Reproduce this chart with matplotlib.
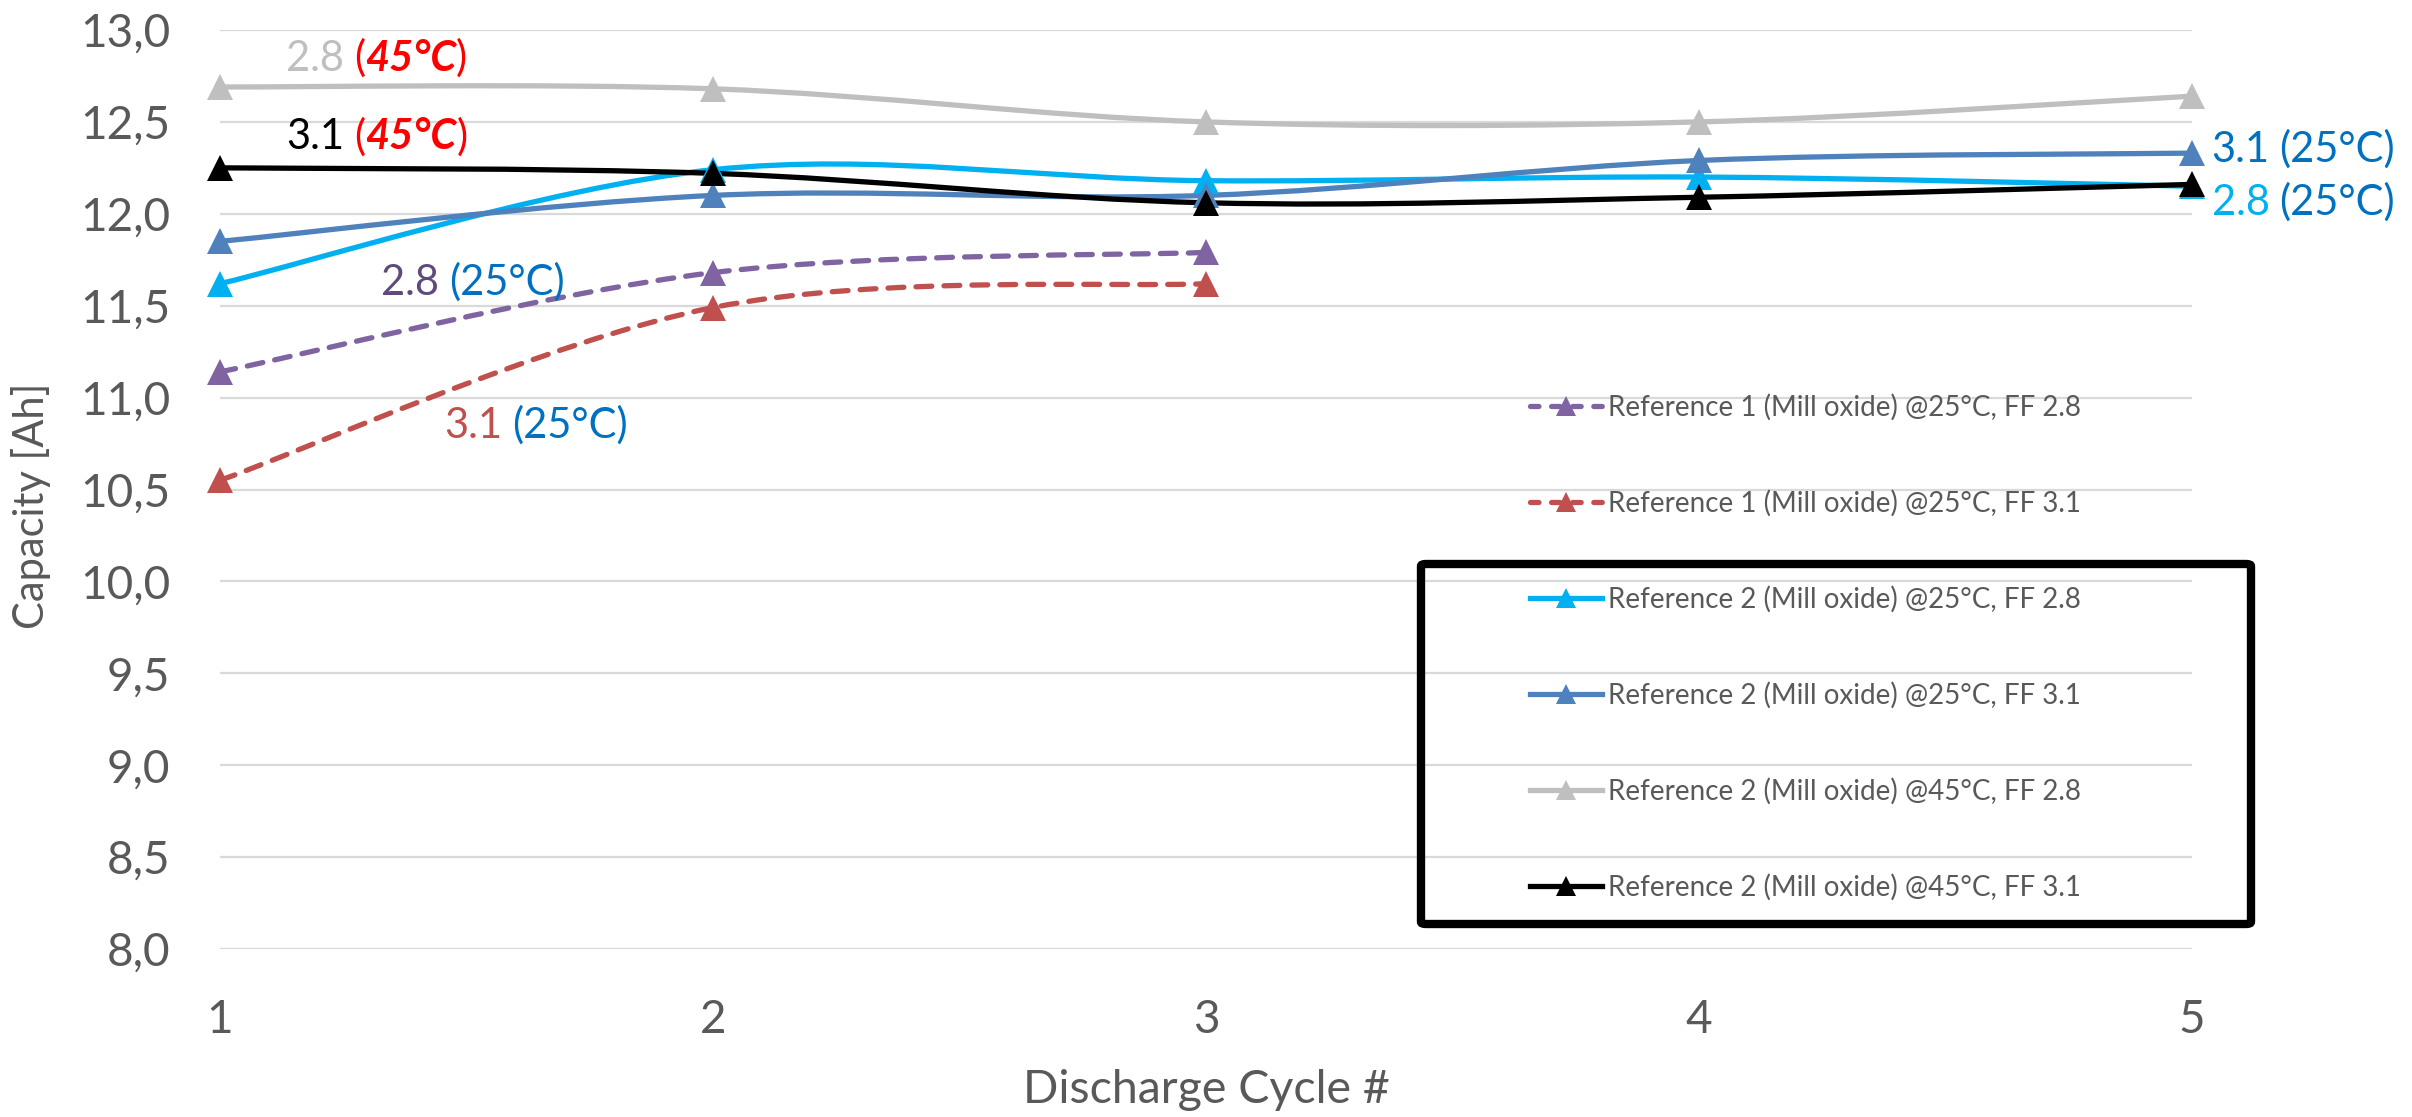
import matplotlib
matplotlib.use("Agg")
import matplotlib.pyplot as plt
from matplotlib.path import Path
from matplotlib.patches import PathPatch, FancyBboxPatch
from matplotlib.lines import Line2D
from matplotlib.offsetbox import TextArea, HPacker, AnnotationBbox
from matplotlib.ticker import FuncFormatter

plt.rcParams['font.family'] = ['Lato', 'DejaVu Sans']

# ---------------- data ----------------
cycles = [1, 2, 3, 4, 5]
ref1_25_ff28 = [11.14, 11.68, 11.79]
ref1_25_ff31 = [10.55, 11.49, 11.62]
ref2_25_ff28 = [11.62, 12.24, 12.18, 12.20, 12.15]
ref2_25_ff31 = [11.85, 12.10, 12.10, 12.29, 12.33]
ref2_45_ff28 = [12.69, 12.68, 12.50, 12.50, 12.64]
ref2_45_ff31 = [12.25, 12.22, 12.06, 12.09, 12.16]

labels = [
    "Reference 1 (Mill oxide) @25°C, FF 2.8",
    "Reference 1 (Mill oxide) @25°C, FF 3.1",
    "Reference 2 (Mill oxide) @25°C, FF 2.8",
    "Reference 2 (Mill oxide) @25°C, FF 3.1",
    "Reference 2 (Mill oxide) @45°C, FF 2.8",
    "Reference 2 (Mill oxide) @45°C, FF 3.1",
]
series = [ref1_25_ff28, ref1_25_ff31, ref2_25_ff28, ref2_25_ff31, ref2_45_ff28, ref2_45_ff31]
colors = ["#8064A2", "#C0504D", "#00B0F0", "#4F81BD", "#BFBFBF", "#000000"]
dashed = [True, True, False, False, False, False]

yticks = [8.0, 8.5, 9.0, 9.5, 10.0, 10.5, 11.0, 11.5, 12.0, 12.5, 13.0]

TXT = "#595959"
LW = 3.8
MS = 19

fig = plt.figure(figsize=(24.12, 11.17), dpi=100)
W, H = 2412, 1117
ax = fig.add_axes([220 / W, 1 - 949 / H, (2192 - 220) / W, (949 - 30) / H])
ax.set_xlim(1, 5)
ax.set_ylim(8, 13)
ax.set_yticks(yticks)
ax.set_xticks(cycles)
ax.yaxis.set_major_formatter(FuncFormatter(lambda v, p: f"{v:.1f}".replace(".", ",")))
for s in ax.spines.values():
    s.set_visible(False)
ax.grid(axis='y', color="#D9D9D9", lw=1.6)
ax.set_axisbelow(True)
ax.tick_params(axis='both', length=0, labelsize=33, labelcolor=TXT)
ax.tick_params(axis='y', pad=36)
ax.tick_params(axis='x', pad=36)


def smooth_path(xs, ys):
    n = len(xs)
    pts = list(zip(xs, ys))
    verts = [pts[0]]
    codes = [Path.MOVETO]
    for i in range(n - 1):
        p0 = pts[i - 1] if i > 0 else pts[i]
        p1 = pts[i]
        p2 = pts[i + 1]
        p3 = pts[i + 2] if i + 2 < n else pts[i + 1]
        c1 = (p1[0] + (p2[0] - p0[0]) / 6, p1[1] + (p2[1] - p0[1]) / 6)
        c2 = (p2[0] - (p3[0] - p1[0]) / 6, p2[1] - (p3[1] - p1[1]) / 6)
        verts += [c1, c2, p2]
        codes += [Path.CURVE4] * 3
    return Path(verts, codes)


handles = []
for ys, col, dsh, lab in zip(series, colors, dashed, labels):
    xs = cycles[:len(ys)]
    ls = (0, (3.0, 2.3)) if dsh else '-'
    patch = PathPatch(smooth_path(xs, ys), fill=False, edgecolor=col, lw=LW,
                      linestyle=ls, capstyle='round', clip_on=False, zorder=3)
    ax.add_patch(patch)
    ax.plot(xs, ys, linestyle='none', marker='^', ms=MS, color=col,
            markeredgewidth=0, clip_on=False, zorder=4)
    h = Line2D([], [], color=col, lw=LW, linestyle=((0, (1.6, 2.4)) if dsh else '-'),
               dash_capstyle='round', marker='^', ms=14, markeredgewidth=0)
    handles.append(h)

leg = fig.legend(handles=handles, labels=labels, loc='upper left',
                 bbox_to_anchor=(1530 / W, 1 - 394 / H), bbox_transform=fig.transFigure,
                 frameon=False, fontsize=20, borderpad=0, borderaxespad=0,
                 handlelength=2.6, handletextpad=0.2, labelspacing=2.49)
for t in leg.get_texts():
    t.set_color(TXT)

# black box around part of legend
box = FancyBboxPatch((1421 / W, 1 - 924 / H), (2251 - 1421) / W, (924 - 564) / H,
                     boxstyle="round,pad=0,rounding_size=0.002", transform=fig.transFigure,
                     fill=False, edgecolor='black', lw=6, zorder=10)
fig.patches.append(box)

fig.text(31 / W, 1 - 506 / H, "Capacity [Ah]", rotation=90, ha='center', va='center',
         fontsize=30, color=TXT)
fig.text(1206 / W, 1 - 1090 / H, "Discharge Cycle #", ha='center', va='center',
         fontsize=33.5, color=TXT)


def multi_label(x, y, pieces, fs=30):
    """pieces: list of groups of (text, color, weight, style); groups separated by a space."""
    groups = []
    for grp in pieces:
        tas = [TextArea(t, textprops=dict(color=c, fontsize=fs, fontweight=w, fontstyle=st))
               for (t, c, w, st) in grp]
        groups.append(HPacker(children=tas, align='baseline', pad=0, sep=0))
    pk = HPacker(children=groups, align='baseline', pad=0, sep=7)
    ab = AnnotationBbox(pk, (x, y), xycoords='data', box_alignment=(0, 0.5),
                        frameon=False, pad=0, annotation_clip=False)
    ax.add_artist(ab)


RED = "#FF0000"
BLUE = "#0070C0"
paren45 = [("(", RED, 'normal', 'normal'), ("45°C", RED, 'bold', 'italic'), (")", RED, 'normal', 'normal')]
multi_label(1.134, 12.845, [[("2.8", "#BFBFBF", 'normal', 'normal')], paren45])
multi_label(1.134, 12.42, [[("3.1", "#000000", 'normal', 'normal')], paren45])
multi_label(1.327, 11.63, [[("2.8", "#604A7B", 'normal', 'normal')], [("(25°C)", BLUE, 'normal', 'normal')]])
multi_label(1.455, 10.85, [[("3.1", "#C0504D", 'normal', 'normal')], [("(25°C)", BLUE, 'normal', 'normal')]])
multi_label(5.04, 12.35, [[("3.1", BLUE, 'normal', 'normal')], [("(25°C)", BLUE, 'normal', 'normal')]])
multi_label(5.04, 12.065, [[("2.8", "#00B0F0", 'normal', 'normal')], [("(25°C)", BLUE, 'normal', 'normal')]])

fig.savefig("out.png", dpi=100)
